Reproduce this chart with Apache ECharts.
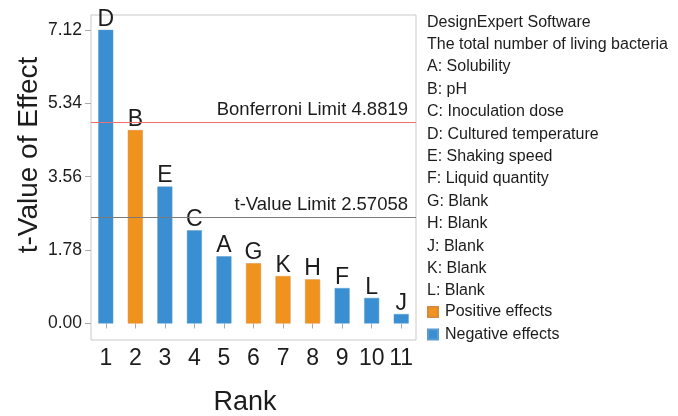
<!DOCTYPE html>
<html>
<head>
<meta charset="utf-8">
<script src="https://cdn.jsdelivr.net/npm/echarts@6/dist/echarts.min.js"></script>
<style>
  html, body { margin: 0; padding: 0; background: #fff; }
  #chart { width: 678px; height: 416px; }
</style>
</head>
<body>
<div id="chart"></div>
<script>
// Pareto chart of standardized effects (ranked by |t|)
const ranks = ['1', '2', '3', '4', '5', '6', '7', '8', '9', '10', '11'];
const effectCodes = ['D', 'B', 'E', 'C', 'A', 'G', 'K', 'H', 'F', 'L', 'J'];
const tValues = [7.12, 4.69, 3.32, 2.26, 1.63, 1.46, 1.15, 1.07, 0.86, 0.62, 0.23];
const effectSigns = ['-', '+', '-', '-', '-', '+', '+', '+', '-', '-', '-'];
const yTicks = [0, 1.78, 3.56, 5.34, 7.12];
const bonferroniLimit = 4.8819;
const tValueLimit = 2.57058;
const xTitle = 'Rank';
const yTitle = 't-Value of Effect';
const infoLines = [
  'DesignExpert Software',
  'The total number of living bacteria',
  'A: Solubility',
  'B: pH',
  'C: Inoculation dose',
  'D: Cultured temperature',
  'E: Shaking speed',
  'F: Liquid quantity',
  'G: Blank',
  'H: Blank',
  'J: Blank',
  'K: Blank',
  'L: Blank'
];

const FONT = '"Liberation Sans", Arial, sans-serif';
const BLUE = '#3a8fd2';
const ORANGE = '#f0921e';
const TEXT = '#1c1c1c';

const positiveData = tValues.map((v, i) => effectSigns[i] === '+' ? v : '-');
const negativeData = tValues.map((v, i) => effectSigns[i] === '-' ? v : '-');

const barLabel = {
  show: true,
  position: 'top',
  distance: -1,
  fontFamily: FONT,
  fontSize: 23,
  color: TEXT,
  formatter: p => effectCodes[p.dataIndex]
};

const chart = echarts.init(document.getElementById('chart'), null, { renderer: 'canvas' });
chart.setOption({
  animation: false,
  backgroundColor: '#ffffff',
  textStyle: { fontFamily: FONT },
  title: {
    text: infoLines.join('\n'),
    left: 427,
    top: 11,
    padding: 0,
    textStyle: {
      fontFamily: FONT,
      fontSize: 16,
      fontWeight: 'normal',
      color: TEXT,
      lineHeight: 22.4
    }
  },
  legend: {
    orient: 'vertical',
    left: 427,
    top: 304,
    padding: 0,
    itemWidth: 10,
    itemHeight: 10,
    itemGap: 6.4,
    icon: 'rect',
    textStyle: { fontFamily: FONT, fontSize: 16, color: TEXT, lineHeight: 16, padding: [0, 0, 0, 2] },
    data: ['Positive effects', 'Negative effects']
  },
  // axis titles
  graphic: [
    {
      type: 'text',
      x: 29,
      y: 155,
      rotation: Math.PI / 2,
      style: {
        text: yTitle,
        font: '28px "Liberation Sans", Arial, sans-serif',
        fill: TEXT,
        textAlign: 'center',
        textVerticalAlign: 'middle'
      }
    },
    {
      type: 'text',
      x: 245,
      y: 403,
      style: {
        text: xTitle,
        font: '27px "Liberation Sans", Arial, sans-serif',
        fill: TEXT,
        textAlign: 'center',
        textVerticalAlign: 'middle'
      }
    }
  ],
  grid: {
    left: 91,
    top: 15,
    width: 325,
    height: 325,
    show: true,
    borderColor: '#c9c9c9',
    borderWidth: 1,
    containLabel: false,
    outerBoundsMode: 'none'
  },
  xAxis: {
    type: 'category',
    data: ranks,
    axisLine: { show: false },
    axisTick: { show: true, alignWithLabel: true, length: 5, lineStyle: { color: '#aaa' } },
    axisLabel: { fontFamily: FONT, fontSize: 23, color: TEXT, margin: 7, interval: 0 }
  },
  yAxis: {
    type: 'value',
    min: -0.4,
    max: 7.48,
    axisLine: { show: false },
    splitLine: { show: false },
    axisTick: {
      show: true,
      length: 6,
      customValues: yTicks,
      lineStyle: { color: '#aaa' }
    },
    axisLabel: {
      customValues: yTicks,
      fontFamily: FONT,
      fontSize: 17.5,
      color: TEXT,
      margin: 9,
      formatter: v => Number(v).toFixed(2)
    }
  },
  series: [
    {
      name: 'Positive effects',
      type: 'bar',
      data: positiveData,
      barWidth: 15,
      barGap: '-100%',
      itemStyle: { color: ORANGE, borderColor: '#d88a3a', borderWidth: 0.5 },
      label: barLabel
    },
    {
      name: 'Negative effects',
      type: 'bar',
      data: negativeData,
      barWidth: 15,
      barGap: '-100%',
      itemStyle: { color: BLUE, borderColor: '#5a9ccc', borderWidth: 0.5 },
      label: barLabel,
      markLine: {
        silent: true,
        symbol: 'none',
        animation: false,
        label: {
          position: 'insideEndTop',
          distance: [8, 3],
          fontFamily: FONT,
          fontSize: 18.5,
          color: TEXT
        },
        data: [
          {
            yAxis: bonferroniLimit,
            lineStyle: { color: '#f07070', width: 1, type: 'solid' },
            label: { formatter: 'Bonferroni Limit ' + bonferroniLimit }
          },
          {
            yAxis: tValueLimit,
            lineStyle: { color: '#7a7a7a', width: 1, type: 'solid' },
            label: { formatter: 't-Value Limit ' + tValueLimit }
          }
        ]
      }
    }
  ]
});
</script>
</body>
</html>
